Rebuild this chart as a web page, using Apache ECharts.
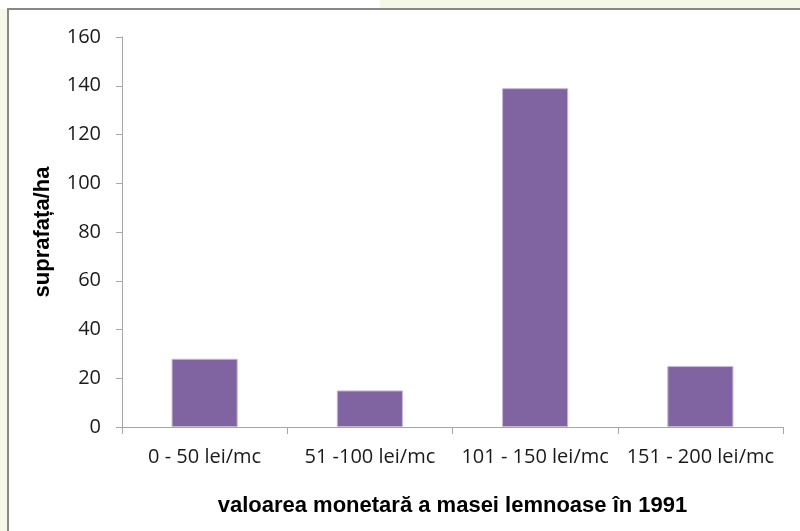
<!DOCTYPE html>
<html>
<head>
<meta charset="utf-8">
<script src="https://cdn.jsdelivr.net/npm/echarts@6/dist/echarts.min.js"></script>
<style>
    html, body { margin: 0; padding: 0; }
    body { width: 800px; height: 531px; position: relative; overflow: hidden; background: #f5f7e7; }
    #patch { position: absolute; left: 0; top: 0; width: 380px; height: 9px; background: #fff; }
    #frame { position: absolute; left: 7px; top: 8px; width: 820px; height: 560px;
             background: #fff; border: 2px solid #888; box-shadow: 0 1px 0 #bbb; }
    #chart { position: absolute; left: 0; top: 0; width: 800px; height: 531px; }
</style>
</head>
<body>
<div id="patch"></div>
<div id="frame"></div>
<div id="chart"></div>
<script>
    // intervale de valoare si suprafete
    const categories = ['0 - 50 lei/mc', '51 -100 lei/mc', '101 - 150 lei/mc', '151 - 200 lei/mc'];
    const values = [28, 15, 139, 25];

    const chart = echarts.init(document.getElementById('chart'), null, { renderer: 'canvas' });
    const axisGray = '#a6a6a6';

    const option = {
        animation: false,
        grid: { left: 122, top: 37, right: 17, bottom: 104 },
        xAxis: {
            type: 'category',
            data: categories,
            name: 'valoarea monetară a masei lemnoase în 1991',
            nameLocation: 'middle',
            nameGap: 68,
            nameTextStyle: { fontFamily: 'Liberation Sans', fontWeight: 'bold', fontSize: 22, color: '#000' },
            axisLine: { lineStyle: { color: axisGray, width: 1 } },
            axisTick: { show: true, length: 7, lineStyle: { color: axisGray } },
            axisLabel: { interval: 0, fontFamily: 'Open Sans', fontSize: 20, color: '#1a1a1a', margin: 20 }
        },
        yAxis: {
            type: 'value',
            min: 0,
            max: 160,
            interval: 20,
            name: 'suprafața/ha',
            nameLocation: 'middle',
            nameGap: 68,
            nameTextStyle: { fontFamily: 'Liberation Sans', fontWeight: 'bold', fontSize: 22, color: '#000' },
            axisLine: { show: true, lineStyle: { color: axisGray, width: 1 } },
            axisTick: { show: true, length: 6, lineStyle: { color: axisGray } },
            splitLine: { show: false },
            axisLabel: { fontFamily: 'Open Sans', fontSize: 20, color: '#1a1a1a', margin: 21 }
        },
        series: [{
            type: 'bar',
            data: values,
            barWidth: '40%',
            itemStyle: { color: '#8064a2', borderColor: '#c4b6d6', borderWidth: 1 }
        }]
    };

    chart.setOption(option);
</script>
</body>
</html>
